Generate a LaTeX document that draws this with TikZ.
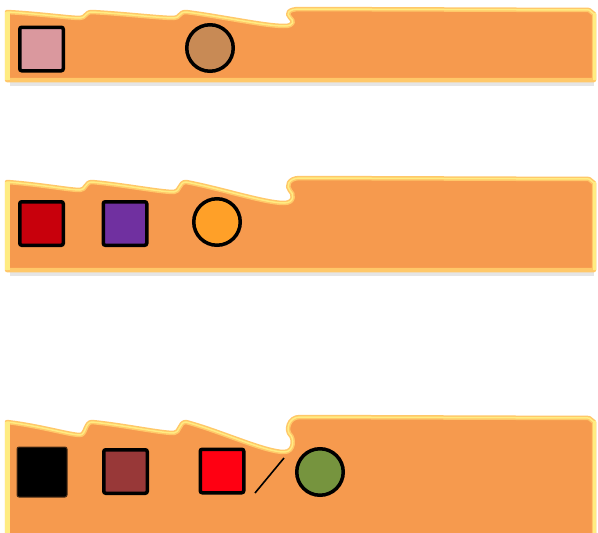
\documentclass[tikz,border=0pt]{standalone}
\definecolor{stripfill}{RGB}{246,154,78}
\definecolor{stripedge}{RGB}{255,200,105}
\definecolor{striplight}{RGB}{255,236,130}
\definecolor{cpink}{RGB}{218,152,158}
\definecolor{cbrown}{RGB}{200,138,85}
\definecolor{cred}{RGB}{200,0,12}
\definecolor{cpurple}{RGB}{112,48,160}
\definecolor{corange}{RGB}{255,160,40}
\definecolor{cdbrown}{RGB}{152,56,56}
\definecolor{cbred}{RGB}{255,0,18}
\definecolor{cgreen}{RGB}{118,148,62}
\tikzset{
  stripsty/.style={fill=stripfill, draw=stripedge, line width=4.5pt, line join=round},
  hilite/.style={draw=striplight, line width=1.5pt, line join=round},
  sidebar/.style={fill=striplight},
  shadowsty/.style={fill=black!10},
  sq/.style={draw=black, line width=3.5pt, rounded corners=2pt, minimum size=43.5pt, inner sep=0pt},
  blob/.style={circle, draw=black, line width=3.5pt, minimum size=46.5pt, inner sep=0pt},
  slashsty/.style={draw=black, line width=1.6pt}
}
% #1 top, #2 dip1, #3 dip2, #4 dip3, #5 right top, #6 bottom
\newcommand{\stripoutline}[6]{%
  (7,#1)
    .. controls (40,#1+0.3*#2) and (70,#1+#2) .. (80,#1+#2)
    .. controls (86,#1+#2) and (85,#1) .. (92,#1)
    .. controls (125,#1+0.3*#3) and (160,#1+#3) .. (174,#1+#3)
    .. controls (180,#1+#3) and (179,#1) .. (186,#1)
    .. controls (220,#1+0.3*#4) and (265,#1+#4) .. (284,#1+#4)
    .. controls (295,#1+#4) and (294,#1+0.5*#4+0.5*#5-0.5*#1+3) .. (290,#1+0.5*#4+0.5*#5-0.5*#1)
    .. controls (286,#1+0.5*#4+0.5*#5-0.5*#1-4) and (288,#5) .. (300,#5)
    -- (589,#5+1) -- (594,#5+5) -- (594,#6) -- (7,#6) -- cycle}
\newcommand{\stripshape}[6]{%
  \fill[shadowsty] (10,#6+2) rectangle (594,#6+6);
  \path[stripsty] \stripoutline{#1}{#2}{#3}{#4}{#5}{#6};
  \path[hilite] (7,#6) -- (7,#1)
    .. controls (40,#1+0.3*#2) and (70,#1+#2) .. (80,#1+#2)
    .. controls (86,#1+#2) and (85,#1) .. (92,#1)
    .. controls (125,#1+0.3*#3) and (160,#1+#3) .. (174,#1+#3)
    .. controls (180,#1+#3) and (179,#1) .. (186,#1)
    .. controls (220,#1+0.3*#4) and (265,#1+#4) .. (284,#1+#4)
    .. controls (295,#1+#4) and (294,#1+0.5*#4+0.5*#5-0.5*#1+3) .. (290,#1+0.5*#4+0.5*#5-0.5*#1)
    .. controls (286,#1+0.5*#4+0.5*#5-0.5*#1-4) and (288,#5) .. (300,#5)
    -- (589,#5+1) -- (594,#5+5) -- (594,#6);
  \fill[sidebar] (5,#1) rectangle (9.5,#6);
  \fill[sidebar] (592.5,#5+4) rectangle (596,#6);
}
\begin{document}
\begin{tikzpicture}[x=1pt,y=-1pt]
\useasboundingbox (0,0) rectangle (598,533);
\clip (0,0) rectangle (598,533);
\fill[white] (0,0) rectangle (598,533);
% strips
\stripshape{12}{6}{6}{14}{9}{80}
\stripshape{182}{8}{10}{21}{178}{270}
\stripshape{422}{13}{11}{30}{417}{550}
% strip 1
\node[sq, fill=cpink] (s1) at (41.5,49) {};
\node[blob, fill=cbrown] (c1) at (210,48) {};
% strip 2
\node[sq, fill=cred] (s2a) at (41.5,223.5) {};
\node[sq, fill=cpurple] (s2b) at (125,223.5) {};
\node[blob, fill=corange] (c2) at (217,222) {};
% strip 3
\node[sq, fill=black, draw=black!70!stripfill, line width=1pt, minimum size=50pt] (s3a) at (42,472) {};
\node[sq, fill=cdbrown] (s3b) at (125.5,471.5) {};
\node[sq, fill=cbred] (s3c) at (222,471) {};
\node[blob, fill=cgreen] (c3) at (320,472) {};
\coordinate (sl1) at (255,493);
\coordinate (sl2) at (284,458);
\draw[slashsty] (sl1) -- (sl2);
\end{tikzpicture}
\end{document}
